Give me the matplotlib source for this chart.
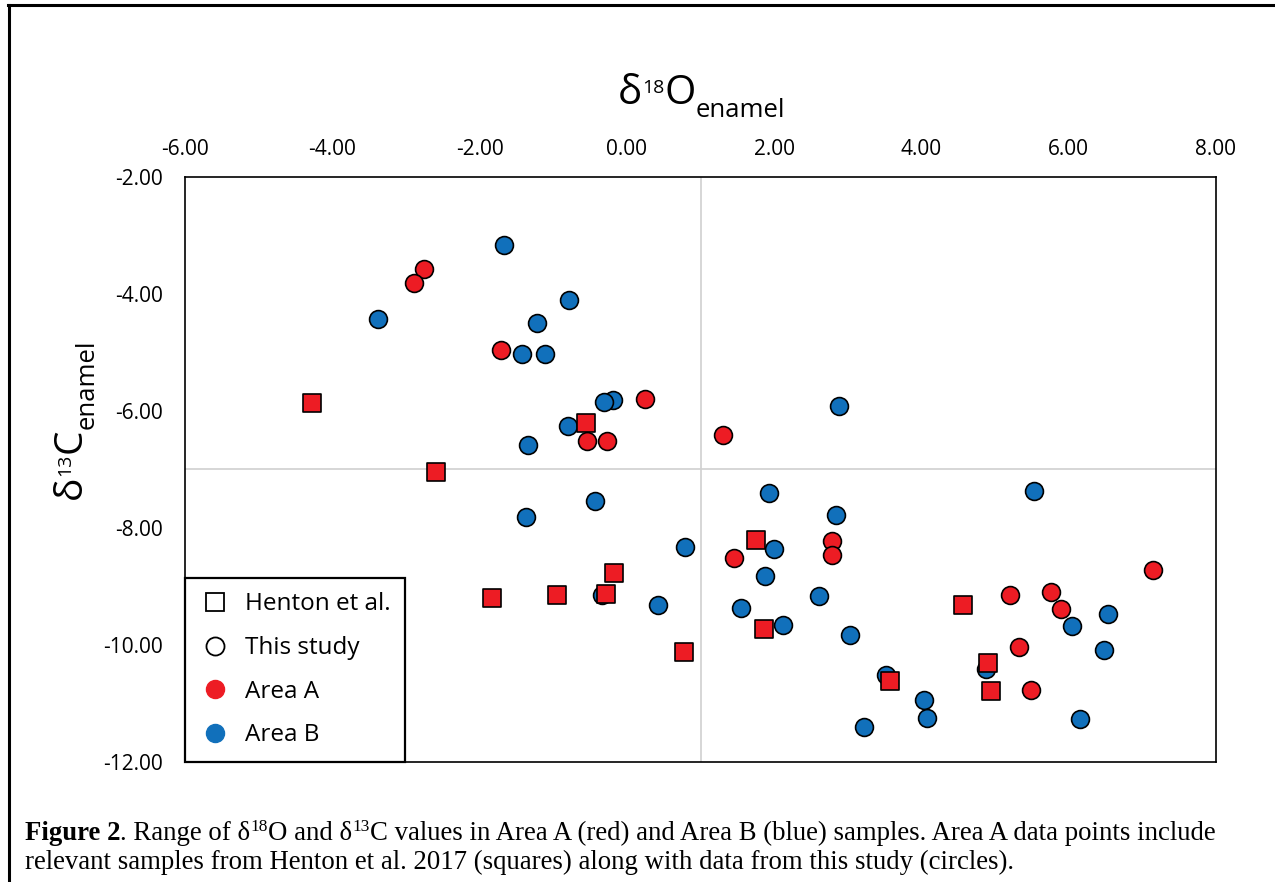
import matplotlib.pyplot as plt
from matplotlib.lines import Line2D

plt.rcParams['font.family'] = ['Open Sans', 'DejaVu Sans']

# Area A - this study (red circles)
a_x = [-2.755, -2.886, -1.709, 0.247, -0.537, -0.274, 1.306, 1.459, 2.78, 2.78,
       5.203, 5.76, 5.89, 7.14, 5.33, 5.49]
a_y = [-3.57, -3.81, -4.95, -5.79, -6.52, -6.52, -6.41, -8.52, -8.23, -8.47,
       -9.14, -9.10, -9.39, -8.72, -10.04, -10.77]

# Area A - Henton et al. 2017 (red squares)
h_x = [-4.28, -0.55, -2.587, -0.17, -1.835, -0.944, -0.287, 0.78, 1.754, 1.862,
       4.565, 4.90, 4.94, 3.57]
h_y = [-5.86, -6.21, -7.04, -8.77, -9.20, -9.15, -9.12, -10.12, -8.21, -9.72,
       -9.31, -10.30, -10.79, -10.62]

# Area B (blue circles)
b_x = [-1.668, -3.379, -0.785, -1.22, -1.42, -1.115, -0.192, -0.31, -0.80, -1.346,
       2.885, -1.369, -0.432, 0.786, -0.341, 0.423, 1.935, 5.533, 2.836, 1.998,
       1.88, 2.605, 1.55, 2.125, 3.026, 6.045, 6.534, 6.484, 4.873, 6.154,
       3.515, 4.035, 4.072, 3.225]
b_y = [-3.17, -4.43, -4.11, -4.49, -5.03, -5.02, -5.81, -5.85, -6.26, -6.58,
       -5.91, -7.81, -7.53, -8.32, -9.15, -9.32, -7.40, -7.37, -7.77, -8.36,
       -8.82, -9.16, -9.37, -9.66, -9.83, -9.68, -9.47, -10.09, -10.41, -11.27,
       -10.51, -10.94, -11.24, -11.40]

x_ticks = [-6, -4, -2, 0, 2, 4, 6, 8]
y_ticks = [-2, -4, -6, -8, -10, -12]
cross_x, cross_y = 1.0, -7.0

RED = '#ED1C24'
BLUE = '#1170BB'

W, H = 1275, 882
fig = plt.figure(figsize=(W / 100, H / 100), dpi=100)
ax = fig.add_axes([185 / W, 1 - 762 / H, 1031 / W, 585 / H])

ax.axvline(cross_x, color='#D0D0D0', lw=1.2, zorder=1)
ax.axhline(cross_y, color='#D0D0D0', lw=1.2, zorder=1)

ms = 165
ax.scatter(b_x, b_y, s=ms, marker='o', c=BLUE, edgecolors='black', linewidths=1.2, zorder=3)
ax.scatter(h_x, h_y, s=ms, marker='s', c=RED, edgecolors='black', linewidths=1.2, zorder=4)
ax.scatter(a_x, a_y, s=ms, marker='o', c=RED, edgecolors='black', linewidths=1.2, zorder=5)

ax.set_xlim(-6, 8)
ax.set_ylim(-12, -2)
ax.xaxis.tick_top()
ax.set_xticks(x_ticks)
ax.set_xticklabels([f'{v:.2f}' for v in x_ticks])
ax.set_yticks(y_ticks)
ax.set_yticklabels([f'{v:.2f}' for v in y_ticks])
ax.tick_params(axis='both', length=0, labelsize=15)
ax.tick_params(axis='x', pad=12)
ax.tick_params(axis='y', pad=16)
for sp in ax.spines.values():
    sp.set_linewidth(1.2)
    sp.set_color('black')

handles = [
    Line2D([], [], marker='s', ls='none', mfc='white', mec='black', ms=13, mew=1.3),
    Line2D([], [], marker='o', ls='none', mfc='white', mec='black', ms=13, mew=1.3),
    Line2D([], [], marker='o', ls='none', mfc=RED, mec=RED, ms=13),
    Line2D([], [], marker='o', ls='none', mfc=BLUE, mec=BLUE, ms=13),
]
leg = ax.legend(handles, ['Henton et al.', 'This study', 'Area A', 'Area B'],
                loc='lower left', bbox_to_anchor=(0, 0), borderaxespad=0,
                fancybox=False, edgecolor='black', framealpha=1, fontsize=17.5,
                handlelength=1.28, handletextpad=0.6, labelspacing=0.81,
                borderpad=0.6)
leg.get_frame().set_linewidth(1.6)
leg.set_zorder(6)

renderer = fig.canvas.get_renderer()


def chain(pieces, x, y, rot=False, family=None):
    # place text pieces one after another, pixel coords from top-left
    y = H - y
    for s, size, off, weight in pieces:
        kw = dict(fontsize=size, fontweight=weight, transform=None,
                  ha='left', va='baseline')
        if family:
            kw['family'] = family
        if not rot:
            t = fig.text(x, y + off, s, **kw)
            x += t.get_window_extent(renderer).width
        else:
            t = fig.text(x - off, y, s, rotation=90, rotation_mode='anchor', **kw)
            y += t.get_window_extent(renderer).height


# axis titles
chain([('δ', 29, 0, 'normal'), ('18', 14, 11, 'normal'),
       ('O', 29, 0, 'normal'), ('enamel', 18.5, -13, 'normal')], 618, 104)
chain([('δ', 28, 0, 'normal'), ('13', 14, 11, 'normal'),
       ('C', 28, 0, 'normal'), ('enamel', 18.5, -13, 'normal')], 81, 499, rot=True)

# caption
serif = ['Liberation Serif', 'DejaVu Serif']
chain([('Figure 2', 19.3, 0, 'bold'), ('. Range of δ', 19.3, 0, 'normal'),
       ('18', 12.5, 9, 'normal'), ('O and δ', 19.3, 0, 'normal'),
       ('13', 12.5, 9, 'normal'),
       ('C values in Area A (red) and Area B (blue) samples. Area A data points include', 19.3, 0, 'normal')],
      25, 840, family=serif)
chain([('relevant samples from Henton et al. 2017 (squares) along with data from this study (circles).',
        19.3, 0, 'normal')], 25, 869, family=serif)

# page frame
fig.add_artist(Line2D([8 / W, 1], [1 - 5 / H, 1 - 5 / H], color='black', lw=2.2,
                      transform=fig.transFigure))
fig.add_artist(Line2D([9 / W, 9 / W], [0, 1 - 5 / H], color='black', lw=2.2,
                      transform=fig.transFigure))

fig.savefig('out.png', dpi=100)
